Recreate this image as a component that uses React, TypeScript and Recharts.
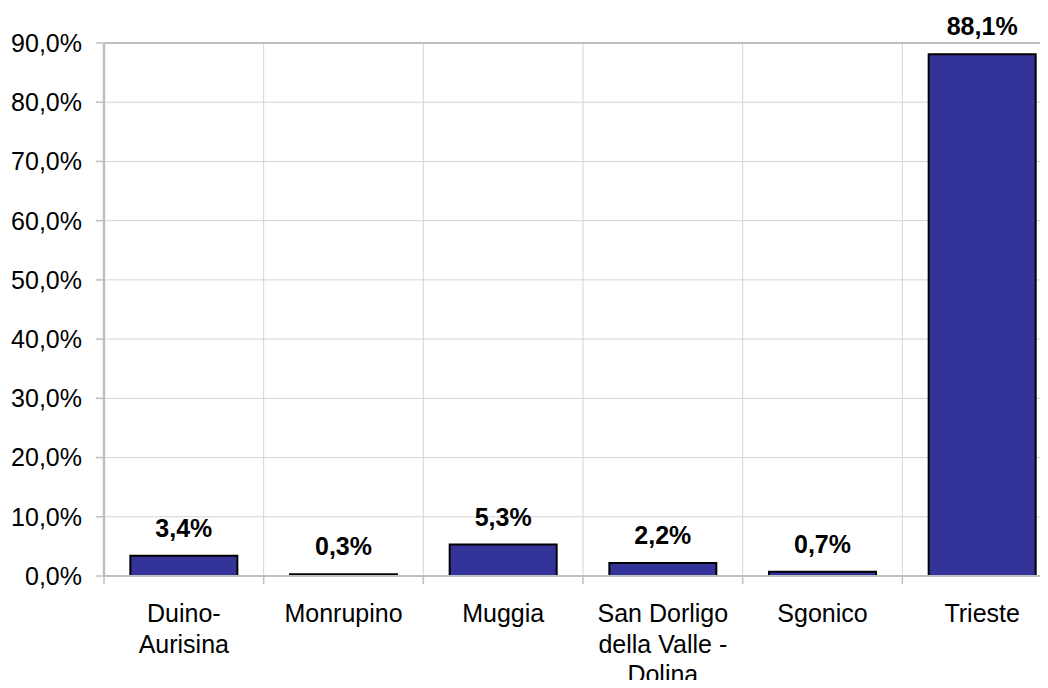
import { BarChart, Bar, XAxis, YAxis, CartesianGrid, LabelList, ReferenceLine } from "recharts";

const categories = [
  "Duino-Aurisina",
  "Monrupino",
  "Muggia",
  "San Dorligo della Valle - Dolina",
  "Sgonico",
  "Trieste",
];
const shares = [3.4, 0.3, 5.3, 2.2, 0.7, 88.1];
const tickLabels = [
  ["Duino-", "Aurisina"],
  ["Monrupino"],
  ["Muggia"],
  ["San Dorligo", "della Valle -", "Dolina"],
  ["Sgonico"],
  ["Trieste"],
];
const yTicks = [0, 10, 20, 30, 40, 50, 60, 70, 80, 90];

const data = categories.map((name, i) => ({ name, value: shares[i] }));

const FONT = '"Liberation Sans", Arial, sans-serif';
const pct = (v: number) => v.toFixed(1).replace(".", ",") + "%";

// category tick: boundary tick mark on the left + wrapped label
const CategoryTick = (props: any) => {
  const { x, y, payload, index } = props;
  const half = payload?.offset ?? 0;
  const lines = tickLabels[index] ?? [String(payload.value)];
  return (
    <g>
      <line x1={x - half} x2={x - half} y1={y - 8} y2={y} stroke="#c0c0c0" strokeWidth={1.5} />
      <text x={x} y={y + 38} textAnchor="middle" fontSize={25} fill="#000" fontFamily={FONT}>
        {lines.map((l, i) => (
          <tspan key={i} x={x} dy={i === 0 ? 0 : 30.5}>
            {l}
          </tspan>
        ))}
      </text>
    </g>
  );
};

const App = () => {
  return (
    <div style={{ margin: -8, width: 1048, height: 688, overflow: "hidden", background: "#fff" }}>
      <BarChart
        width={1070}
        height={688}
        data={data}
        margin={{ top: 43, right: 8, left: 0, bottom: 0 }}
        barCategoryGap="16.5%"
        style={{ fontFamily: FONT }}
      >
        <CartesianGrid
          stroke="#d4d4d4"
          verticalCoordinatesGenerator={({ offset }: any) =>
            Array.from({ length: categories.length + 1 }, (_, i) => offset.left + (i * offset.width) / categories.length)
          }
        />
        <XAxis
          dataKey="name"
          height={112}
          interval={0}
          tickLine={false}
          tickSize={8}
          tickMargin={0}
          axisLine={{ stroke: "#c0c0c0", strokeWidth: 2 }}
          tick={<CategoryTick />}
        />
        <YAxis
          width={104}
          domain={[0, 90]}
          ticks={yTicks}
          tickFormatter={pct}
          tickSize={8}
          tickMargin={14}
          axisLine={{ stroke: "#c0c0c0", strokeWidth: 2.5 }}
          tickLine={{ stroke: "#c0c0c0", strokeWidth: 1.5 }}
          tick={{ fill: "#000", fontSize: 25, fontFamily: FONT }}
        />
        <ReferenceLine y={90} stroke="#c0c0c0" strokeWidth={2} />
        <Bar dataKey="value" fill="#333399" stroke="#000" strokeWidth={2} isAnimationActive={false}>
          <LabelList
            dataKey="value"
            position="top"
            offset={19}
            formatter={(v: any) => pct(Number(v))}
            style={{ fill: "#000", fontSize: 25, fontWeight: "bold", fontFamily: FONT }}
          />
        </Bar>
      </BarChart>
    </div>
  );
};

export default App;
